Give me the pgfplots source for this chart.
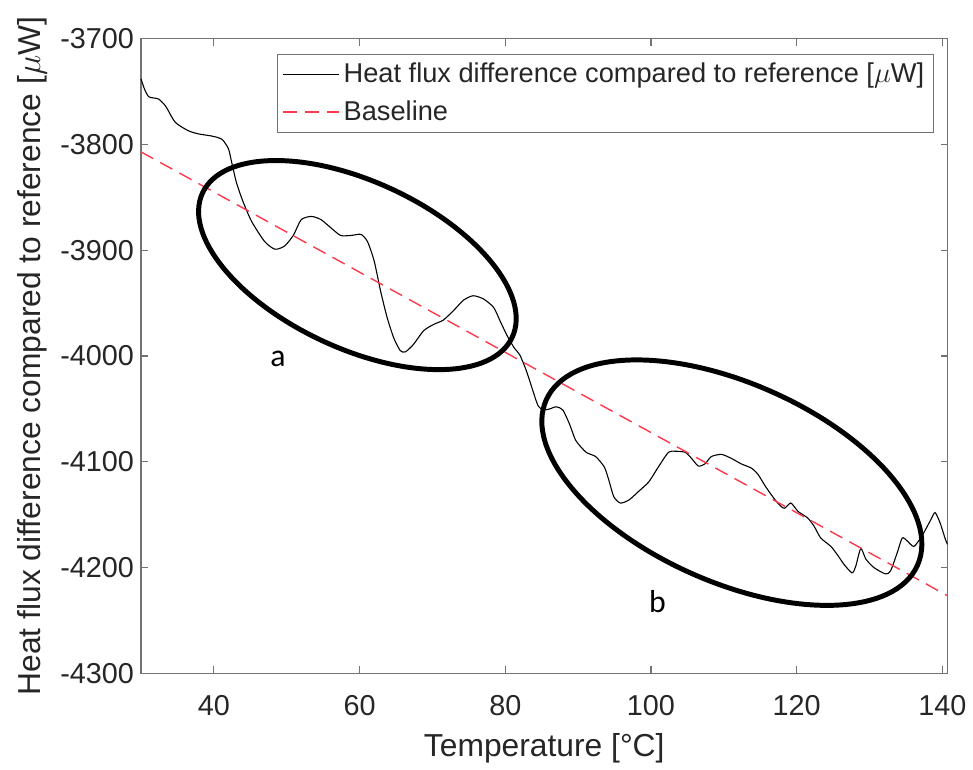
\documentclass[border=0pt]{standalone}
\usepackage{pgfplots}
\pgfplotsset{compat=1.18}
\usepackage{fontspec}
\setmainfont{Liberation Sans}
\newfontfamily\calfont{Carlito}
\definecolor{basered}{rgb}{1,0.22,0.3}
\definecolor{txt}{gray}{0.15}
\begin{document}
\begin{tikzpicture}
\begin{axis}[
  width=406pt, height=319.5pt, scale only axis,
  xmin=30, xmax=140.7, ymin=-4300, ymax=-3700,
  xtick={40,60,80,100,120,140},
  ytick={-4300,-4200,-4100,-4000,-3900,-3800,-3700},
  /pgf/number format/assume math mode=true,
  /pgf/number format/1000 sep={},
  tick label style={font=\fontsize{14.5}{17}\selectfont, text=txt},
  xticklabel style={yshift=-7.5pt},
  label style={font=\fontsize{16}{19}\selectfont, text=txt},
  xlabel={Temperature [\textdegree C]},
  xlabel style={yshift=-2pt},
  ylabel={Heat flux difference compared to reference [$\mu$W]},
  axis line style={black!55, line width=0.6pt},
  major tick style={black!55, line width=0.6pt},
  major tick length=3.5pt,
  tick align=inside,
  clip=false,
  legend style={at={(0.983,0.9765)}, anchor=north east, draw=black!55, line width=0.6pt,
    font=\fontsize{13.7}{16}\selectfont, text=txt, inner sep=2.5pt,
    row sep=3.5pt, cells={anchor=west}},
  legend cell align=left,
  legend image code/.code={\draw[#1] (0pt,0pt) -- (28pt,0pt);},
]
\addplot[black, line width=0.55pt, smooth, tension=0.4] coordinates {
(30.0,-3738) (30.5,-3748) (31.1,-3755) (32.4,-3757) (33.4,-3764) (34.7,-3779)
(36.5,-3787) (37.9,-3790) (39.7,-3792) (41.1,-3795) (42.0,-3804) (42.45,-3817)
(43.1,-3836) (44.0,-3854) (45.2,-3873) (47.0,-3892) (48.4,-3899) (49.7,-3896)
(50.9,-3886) (52.0,-3871) (53.4,-3868) (54.7,-3871) (56.1,-3879) (57.4,-3886)
(58.8,-3886) (60.2,-3885) (61.1,-3892) (62.0,-3910) (62.9,-3939) (63.8,-3964)
(64.7,-3983) (65.6,-3995) (66.3,-3996) (67.4,-3989) (68.8,-3976) (70.2,-3970)
(71.5,-3966) (72.9,-3957) (74.3,-3947) (75.6,-3943) (77.0,-3946) (78.4,-3954)
(79.3,-3967) (80.2,-3980) (81.2,-3992) (82.0,-3999) (82.9,-4014) (83.8,-4033)
(84.5,-4047) (85.2,-4051) (86.1,-4050) (87.0,-4048) (87.9,-4051) (88.8,-4064)
(89.7,-4080) (91.1,-4091) (92.4,-4095) (93.6,-4105) (94.2,-4117) (94.9,-4133)
(95.8,-4139) (97.0,-4136) (98.3,-4128) (99.7,-4119) (101.0,-4105) (102.4,-4091)
(103.3,-4090) (104.7,-4091) (105.6,-4097) (106.5,-4104) (107.4,-4102) (108.3,-4095)
(109.7,-4093) (111.1,-4097) (112.4,-4102) (113.8,-4106) (114.7,-4112) (115.6,-4122)
(116.5,-4131) (117.4,-4139) (118.3,-4144) (119.2,-4139) (120.2,-4147) (121.5,-4153)
(122.4,-4161) (123.3,-4172) (124.7,-4180) (125.6,-4188) (126.5,-4197) (127.6,-4205)
(128.1,-4199) (128.8,-4182) (129.5,-4192) (130.6,-4200) (132.2,-4206) (132.9,-4203)
(133.8,-4186) (134.5,-4172) (135.2,-4175) (136.1,-4180) (137.2,-4170) (138.4,-4155)
(139.0,-4148) (139.7,-4158) (140.4,-4173) (140.7,-4178)
};
\addlegendentry{Heat flux difference compared to reference [$\mu$W]}
\addplot[basered, line width=0.7pt, dash pattern=on 7pt off 4pt] coordinates {
(30,-3807) (140.7,-4226.6)
};
\addlegendentry{Baseline}
\draw[line width=2.5pt] (axis cs:59.7,-3914) circle [x radius=86pt, y radius=42pt, rotate=-25];
\draw[line width=2.5pt] (axis cs:111.1,-4119.7) circle [x radius=102.3pt, y radius=50pt, rotate=-24];
\node[font=\calfont\fontsize{16}{19}\selectfont] at (axis cs:48.8,-4003) {a};
\node[font=\calfont\fontsize{16}{19}\selectfont] at (axis cs:100.9,-4232) {b};
\path (rel axis cs:0,0) ++(-71pt,-44.5pt) coordinate (bbsw);
\path (rel axis cs:1,1) ++(9.5pt,19.5pt) coordinate (bbne);
\end{axis}
\useasboundingbox (bbsw) rectangle (bbne);
\end{tikzpicture}
\end{document}
